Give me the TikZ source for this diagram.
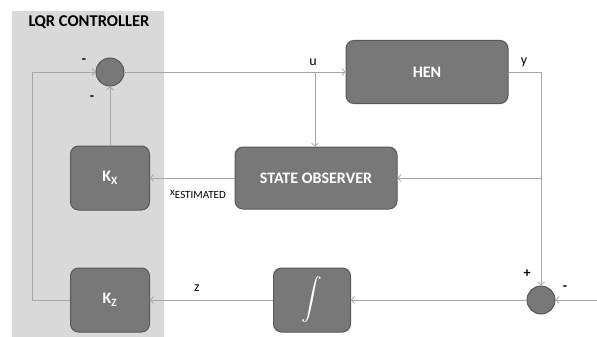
\documentclass[tikz,border=0pt]{standalone}
\usepackage{amsmath}
\usepackage{fontspec}
\setmainfont{Carlito}
\usetikzlibrary{arrows.meta}
\definecolor{panelgray}{HTML}{D9D9D9}
\definecolor{blockfill}{HTML}{787878}
\definecolor{blockedge}{HTML}{595959}
\definecolor{wiregray}{HTML}{A6A6A6}
\tikzstyle{block} = [rectangle, draw=blockedge, fill=blockfill, rounded corners=8pt,
                 line width=1pt, text=white, font=\bfseries\fontsize{16}{18}\selectfont]
\tikzstyle{sum} = [circle, draw=blockedge, fill=blockfill, line width=1pt,
                 minimum size=28pt, inner sep=0pt]
\tikzstyle{wire} = [draw=wiregray, line width=0.8pt]
\tikzstyle{signal} = [wire, -{Straight Barb[length=3pt,width=7pt]}]
\tikzstyle{lbl} = [font=\fontsize{14}{16}\selectfont, inner sep=0pt]
\tikzstyle{sign} = [font=\bfseries\fontsize{14}{16}\selectfont, inner sep=0pt]

\begin{document}
\begin{tikzpicture}[x=1pt,y=-1pt]
\useasboundingbox (0,0) rectangle (597,337);

% controller panel
\fill[panelgray] (12,11) rectangle (164,337);
\node[font=\bfseries\fontsize{16.5}{18}\selectfont] (title) at (89,22) {L\kern-1ptQR CONTROLLER};

% blocks
\node[sum] (s1) at (110,72) {};
\node[block, minimum width=79pt, minimum height=64pt] (kx) at (110,178) {K\textsubscript{X}};
\node[block, minimum width=79pt, minimum height=64pt] (kz) at (110,300) {K\textsubscript{Z}};
\node[block, minimum width=162pt, minimum height=63pt] (hen) at (427,72) {HEN};
\node[block, minimum width=162pt, minimum height=62pt] (obs) at (316,178) {STATE OBSERVER};
\node[block, minimum width=77pt, minimum height=64pt, inner sep=0pt, font=\fontsize{20}{22}\selectfont] (int) at (312,300) {$\displaystyle\int$};
\node[sum] (s2) at (541,300) {};

% branch points
\coordinate (ubr) at (315,72);
\coordinate (ybr) at (541,72);
\coordinate (yobs) at (541,178);
\coordinate (fb) at (32,72);
\coordinate (ref) at (597,300);

% connectors
\draw[signal] (s1.east) -- (hen.west);
\draw[signal] (ubr) -- (ubr |- obs.north);
\draw[wire] (hen.east) -- (ybr);
\draw[signal] (ybr) -- (s2.north);
\draw[signal] (yobs) -- (obs.east);
\draw[signal] (obs.west) -- (kx.east);
\draw[signal] (kx.north) -- (s1.south);
\draw[signal] (kz.west) -| (fb) -- (s1.west);
\draw[signal] (ref) -- (s2.east);
\draw[signal] (s2.west) -- (int.east);
\draw[signal] (int.west) -- (kz.east);

% labels
\node[lbl] (lu) at (313,62) {u};
\node[lbl] (ly) at (524,62) {y};
\node[lbl] (lz) at (197,288) {z};
\node[lbl, font=\fontsize{11}{13}\selectfont] (lx) at (198,194) {\raisebox{3pt}{x}ESTIMATED};
\node[sign] (m1) at (84,61) {-};
\node[sign] (m2) at (92,98) {-};
\node[sign] (p3) at (527,274) {+};
\node[sign] (m4) at (565,288) {-};
\end{tikzpicture}
\end{document}
